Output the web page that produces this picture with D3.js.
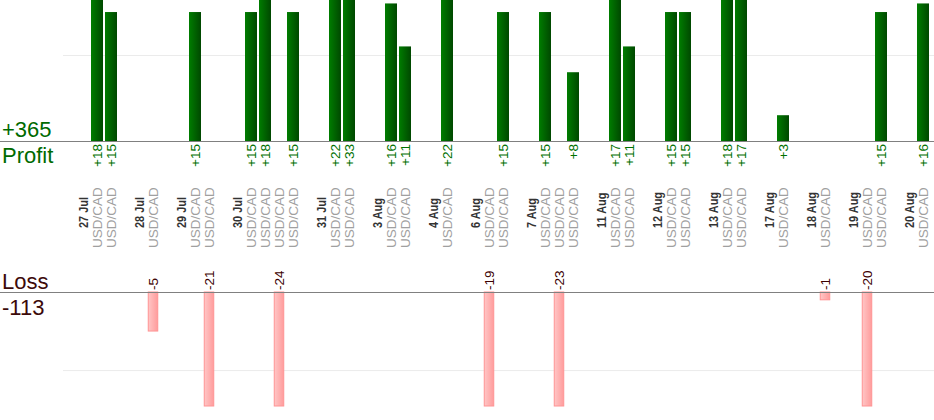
<!DOCTYPE html>
<html>
<head>
<meta charset="utf-8">
<script src="https://d3js.org/d3.v7.min.js"></script>
<style>
  body { margin: 0; background: #fff; }
  svg { display: block; font-family: Arial, "Liberation Sans", sans-serif; }
</style>
</head>
<body>
<div id="my_dataviz"></div>
<script>

    // trading days, and for each trade: which day it belongs to, symbol and result
    var days = ["27 Jul", "28 Jul", "29 Jul", "30 Jul", "31 Jul", "3 Aug", "4 Aug", "6 Aug",
                "7 Aug", "11 Aug", "12 Aug", "13 Aug", "17 Aug", "18 Aug", "19 Aug", "20 Aug"];
    var tradeDay = [0, 0, 1, 2, 2, 3, 3, 3, 3, 4, 4, 5, 5, 6, 7, 7,
                    8, 8, 8, 9, 9, 10, 10, 11, 11, 12, 13, 14, 14, 15];
    var tradeSymbol = "USD/CAD";
    var tradeResult = [18, 15, -5, 15, -21, 15, 18, -24, 15, 22, 33, 16, 11, 22, -19, 15,
                       15, -23, 8, 17, 11, 15, 15, 18, 17, 3, -1, -20, 15, 16];
    var gridValues = [10];

    var width = 934, height = 420;

    // build the slot list: date label, its trades, then an empty gap slot
    var slots = [];
    days.forEach(function (d, di) {
        slots.push({ id: "d" + di, type: "day", label: d });
        tradeResult.forEach(function (v, ti) {
            if (tradeDay[ti] == di) slots.push({ id: "t" + ti, type: "trade", value: v });
        });
        slots.push({ id: "g" + di, type: "gap" });
    });
    var trades = slots.filter(function (s) { return s.type == "trade"; });
    var wins = trades.filter(function (s) { return s.value > 0; });
    var losses = trades.filter(function (s) { return s.value < 0; });

    var svg = d3.select("#my_dataviz")
        .append("svg")
        .attr("width", width)
        .attr("height", height);

    var defs = svg.append("defs");
    var gG = defs.append("linearGradient").attr("id", "gradWin");
    gG.append("stop").attr("offset", "0%").attr("stop-color", "#007d00");
    gG.append("stop").attr("offset", "100%").attr("stop-color", "#004800");
    var gR = defs.append("linearGradient").attr("id", "gradLoss");
    gR.append("stop").attr("offset", "0%").attr("stop-color", "#ffc6c6");
    gR.append("stop").attr("offset", "100%").attr("stop-color", "#ff9c9c");

    // X: one band per slot
    var x = d3.scaleBand()
        .domain(slots.map(function (s) { return s.id; }))
        .range([76, 76 + slots.length * 14])
        .padding(0);
    var bw = x.bandwidth();
    function cx(s) { return x(s.id) + bw / 2; }

    // Y scales
    var yWin = d3.scaleLinear().domain([0, 16.4]).range([141, 0]).clamp(true);
    var yLoss = d3.scaleLinear().domain([0, 14.6]).range([292, 406]).clamp(true);

    // grid lines
    svg.selectAll("gridW")
        .data(gridValues)
        .enter()
        .append("line")
        .attr("x1", 63).attr("x2", width)
        .attr("y1", function (d) { return yWin(d) + 0.5; })
        .attr("y2", function (d) { return yWin(d) + 0.5; })
        .attr("stroke", "#ebebeb");
    svg.selectAll("gridL")
        .data(gridValues)
        .enter()
        .append("line")
        .attr("x1", 63).attr("x2", width)
        .attr("y1", function (d) { return yLoss(d) + 0.5; })
        .attr("y2", function (d) { return yLoss(d) + 0.5; })
        .attr("stroke", "#ebebeb");

    // profit bars
    svg.selectAll("winbar")
        .data(wins)
        .enter()
        .append("rect")
        .attr("x", function (d) { return x(d.id) + 1; })
        .attr("y", function (d) { return yWin(d.value); })
        .attr("width", bw - 2)
        .attr("height", function (d) { return yWin(0) - yWin(d.value); })
        .attr("fill", "url(#gradWin)");

    // loss bars
    svg.selectAll("lossbar")
        .data(losses)
        .enter()
        .append("rect")
        .attr("x", function (d) { return x(d.id) + 2.25; })
        .attr("y", yLoss(0))
        .attr("width", bw - 4.5)
        .attr("height", function (d) { return yLoss(-d.value) - yLoss(0); })
        .attr("fill", "url(#gradLoss)")
        .attr("stroke", "#ff9494")
        .attr("stroke-width", 1);

    // baselines
    svg.append("line")
        .attr("x1", 0).attr("x2", width)
        .attr("y1", yWin(0) + 0.5).attr("y2", yWin(0) + 0.5)
        .attr("stroke", "#808080");
    svg.append("line")
        .attr("x1", 0).attr("x2", width)
        .attr("y1", yLoss(0) + 0.5).attr("y2", yLoss(0) + 0.5)
        .attr("stroke", "#808080");

    // rotated labels
    function vtext(sel, xf, y, anchor) {
        return sel.append("text")
            .attr("transform", function (d) { return "translate(" + xf(d) + "," + y + ")rotate(-90)"; })
            .attr("dy", "0.36em")
            .attr("text-anchor", anchor);
    }

    vtext(svg.selectAll("winlab").data(wins).enter(), cx, 144, "end")
        .style("font-size", "13.5px")
        .attr("fill", "#007000")
        .text(function (d) { return "+" + d.value; });

    vtext(svg.selectAll("losslab").data(losses).enter(), cx, 290, "start")
        .style("font-size", "13.5px")
        .attr("fill", "#3c0000")
        .text(function (d) { return d.value; });

    // date labels are a narrow bold face in the original: squeeze them a bit
    vtext(svg.selectAll("daylab").data(slots.filter(function (s) { return s.type == "day"; })).enter(), cx, 228, "start")
        .style("font-size", "13px")
        .style("font-weight", "bold")
        .attr("fill", "#333")
        .text(function (d) { return d.label; })
        .each(function () {
            var len = this.getComputedTextLength();
            d3.select(this).attr("textLength", len * 0.84).attr("lengthAdjust", "spacingAndGlyphs");
        });

    vtext(svg.selectAll("symlab").data(trades).enter(), cx, 248, "start")
        .style("font-size", "13.5px")
        .attr("fill", "#a0a0a0")
        .text(tradeSymbol);

    // totals
    var totalWin = d3.sum(wins, function (d) { return d.value; });
    var totalLoss = d3.sum(losses, function (d) { return d.value; });
    svg.append("text").attr("x", 2).attr("y", 137)
        .style("font-size", "22px").attr("fill", "#006a00")
        .text("+" + totalWin);
    svg.append("text").attr("x", 2).attr("y", 163)
        .style("font-size", "22px").attr("fill", "#006a00")
        .text("Profit");
    svg.append("text").attr("x", 2).attr("y", 289)
        .style("font-size", "22px").attr("fill", "#3c0a0a")
        .text("Loss");
    svg.append("text").attr("x", 2).attr("y", 315)
        .style("font-size", "22px").attr("fill", "#3c0a0a")
        .text(totalLoss);

</script>
</body>
</html>
